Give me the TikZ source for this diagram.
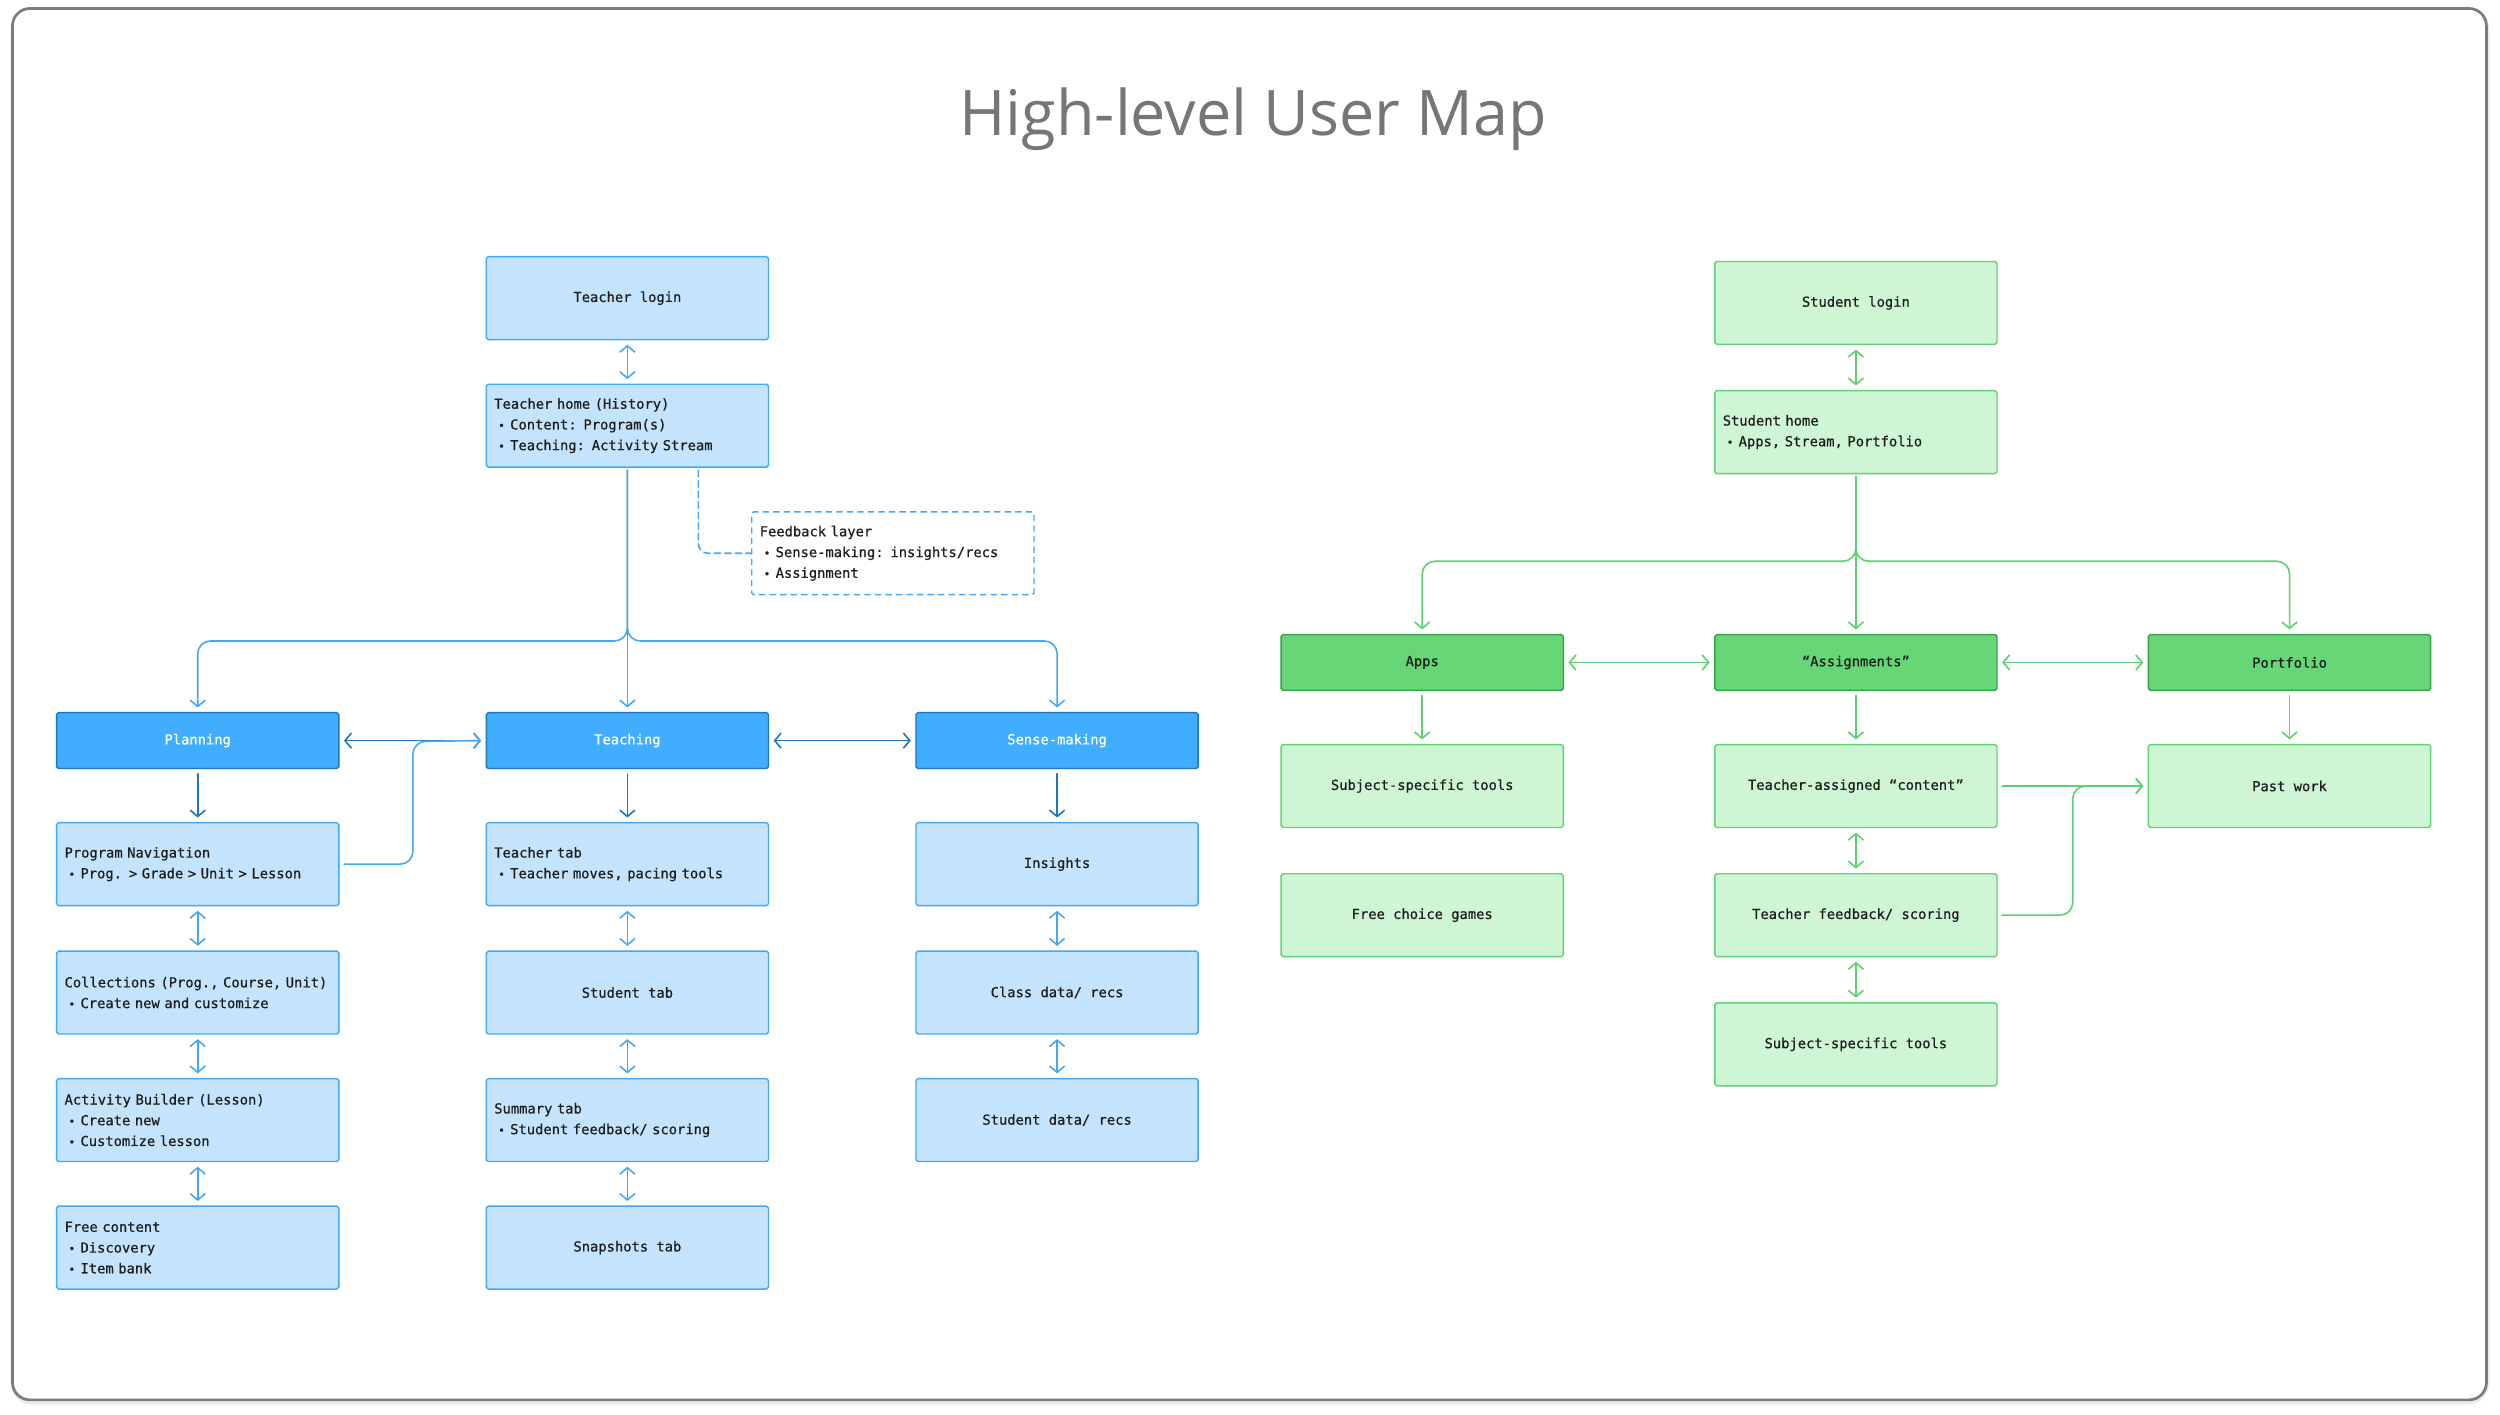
\documentclass[tikz,border=0pt]{standalone}
\usepackage{fontspec}
\usetikzlibrary{arrows.meta,calc}
\newfontfamily\monof[FakeBold=0.7]{DejaVu Sans Mono}
\newfontfamily\titlef{Open Sans}
\definecolor{lbfill}{HTML}{C4E4FD}
\definecolor{lbline}{HTML}{44A8F6}
\definecolor{dbfill}{HTML}{40ADFF}
\definecolor{dbline}{HTML}{1C76C2}
\definecolor{lgfill}{HTML}{CEF5D4}
\definecolor{lgline}{HTML}{63D274}
\definecolor{dgfill}{HTML}{66D677}
\definecolor{dgline}{HTML}{3C9F4B}
\definecolor{garr}{HTML}{5DD06F}
\definecolor{txtc}{HTML}{1E1E1E}
\definecolor{titlec}{HTML}{767676}
\definecolor{framec}{HTML}{7C7C7C}
\newcommand{\bul}{\makebox[10mm][l]{\hspace{2.5mm}\scalebox{0.8}{•}}}
\tikzset{
  base/.style={draw, rounded corners=1.2mm, line width=0.9mm, minimum height=52mm, minimum width=177mm,
    inner sep=0pt, text=txtc, font=\monof\fontsize{24.6pt}{37pt}\selectfont},
  lb/.style={base, fill=lbfill, draw=lbline},
  lbl/.style={lb, text width=167mm, align=left},
  db/.style={base, fill=dbfill, draw=dbline, minimum height=35mm, text=white},
  lg/.style={base, fill=lgfill, draw=lgline},
  lgl/.style={lg, text width=167mm, align=left},
  dg/.style={base, fill=dgfill, draw=dgline, minimum height=35mm},
  conn/.style={line width=1mm, line join=round, line cap=round},
  tipend/.style={-{Straight Barb[length=4mm,width=9.5mm,line width=1mm]}},
  tipboth/.style={{Straight Barb[length=4mm,width=9.5mm,line width=1mm]}-{Straight Barb[length=4mm,width=9.5mm,line width=1mm]}},
  lba/.style={conn, draw=lbline},
  dba/.style={conn, draw=dbline},
  ga/.style={conn, draw=garr},
  gap/.style={shorten <=2.8mm, shorten >=2.8mm},
}
\begin{document}
\begin{tikzpicture}[x=1mm,y=-1mm]
\useasboundingbox (0,0) rectangle (1568,887);
\fill[white] (0,0) rectangle (1568,887);
% frame
\draw[black!8, line width=3mm, rounded corners=12mm] (8.2,6.3) rectangle (1559.8,879.5);
\draw[framec, line width=1.7mm, rounded corners=11mm, fill=white] (7.8,5.3) rectangle (1559.5,878);
% title
\node[text=titlec] (title) at (786,75) {\resizebox{368mm}{!}{\titlef High-level User Map}};

% ---------- Teacher side ----------
\node[lb] (tlogin) at (393.5,187) {Teacher login};
\node[lbl] (thome) at (393.5,267) {Teacher home (History)\\\bul Content: Program(s)\\\bul Teaching: Activity Stream};
\node[lbl, fill=white, dash pattern=on 4mm off 2.6mm] (fb) at (560,347) {Feedback layer\\\bul Sense-making: insights/recs\\\bul Assignment};

\node[db] (plan) at (124,464.5) {Planning};
\node[db] (teach) at (393.5,464.5) {Teaching};
\node[db] (sense) at (663,464.5) {Sense-making};

\node[lbl] (pnav) at (124,542) {Program Navigation\\\bul Prog. > Grade > Unit > Lesson};
\node[lbl] (coll) at (124,622.5) {Collections (Prog., Course, Unit)\\\bul Create new and customize};
\node[lbl] (abuild) at (124,702.5) {Activity Builder (Lesson)\\\bul Create new\\\bul Customize lesson};
\node[lbl] (free) at (124,782.5) {Free content\\\bul Discovery\\\bul Item bank};

\node[lbl] (ttab) at (393.5,542) {Teacher tab\\\bul Teacher moves, pacing tools};
\node[lb] (stab) at (393.5,622.5) {Student tab};
\node[lbl] (sumtab) at (393.5,702.5) {Summary tab\\\bul Student feedback/ scoring};
\node[lb] (snap) at (393.5,782.5) {Snapshots tab};

\node[lb] (ins) at (663,542) {Insights};
\node[lb] (cdata) at (663,622.5) {Class data/ recs};
\node[lb] (sdata) at (663,702.5) {Student data/ recs};

\coordinate (brY) at (0,402);
\coordinate (jx) at (259,465);

\draw[lba, tipboth, gap] (tlogin) -- (thome);
\draw[lba, tipend, rounded corners=8mm, shorten <=1.5mm, shorten >=2.8mm] (thome.south) |- (plan.north |- brY) -- (plan.north);
\draw[lba, tipend, rounded corners=8mm, shorten <=1.5mm, shorten >=2.8mm] (thome.south) |- (sense.north |- brY) -- (sense.north);
\draw[lba, tipend, shorten <=1.5mm, shorten >=2.8mm] (thome.south) -- (teach.north);
\draw[lba, dash pattern=on 4mm off 2.6mm, rounded corners=6mm, shorten <=1.5mm] ($(thome.south)+(44.5,0)$) |- (fb.west);

\draw[dba, tipboth, gap] (plan) -- (teach);
\draw[dba, tipboth, gap] (teach) -- (sense);
\draw[lba, tipend, rounded corners=8mm, gap] (pnav.east) -| (jx) -- (teach.west);

\draw[dba, tipend, gap] (plan) -- (pnav);
\draw[dba, tipend, gap] (teach) -- (ttab);
\draw[dba, tipend, gap] (sense) -- (ins);

\draw[lba, tipboth, gap] (pnav) -- (coll);
\draw[lba, tipboth, gap] (coll) -- (abuild);
\draw[lba, tipboth, gap] (abuild) -- (free);
\draw[lba, tipboth, gap] (ttab) -- (stab);
\draw[lba, tipboth, gap] (stab) -- (sumtab);
\draw[lba, tipboth, gap] (sumtab) -- (snap);
\draw[lba, tipboth, gap] (ins) -- (cdata);
\draw[lba, tipboth, gap] (cdata) -- (sdata);

% ---------- Student side ----------
\node[lg] (slogin) at (1164,190) {Student login};
\node[lgl] (shome) at (1164,271) {Student home\\\bul Apps, Stream, Portfolio};

\node[dg] (apps) at (892,415.5) {Apps};
\node[dg] (assign) at (1164,415.5) {“Assignments”};
\node[dg] (port) at (1436,415.5) {Portfolio};

\node[lg] (sst1) at (892,493) {Subject-specific tools};
\node[lg] (fcg) at (892,574) {Free choice games};
\node[lg] (tac) at (1164,493) {Teacher-assigned “content”};
\node[lg] (tfs) at (1164,574) {Teacher feedback/ scoring};
\node[lg] (sst2) at (1164,655) {Subject-specific tools};
\node[lg] (past) at (1436,493) {Past work};

\coordinate (gbrY) at (0,352);
\coordinate (gx) at (1300,493);

\draw[ga, tipboth, gap] (slogin) -- (shome);
\draw[ga, tipend, rounded corners=8mm, shorten <=1.5mm, shorten >=2.8mm] (shome.south) |- (apps.north |- gbrY) -- (apps.north);
\draw[ga, tipend, rounded corners=8mm, shorten <=1.5mm, shorten >=2.8mm] (shome.south) |- (port.north |- gbrY) -- (port.north);
\draw[ga, tipend, shorten <=1.5mm, shorten >=2.8mm] (shome.south) -- (assign.north);

\draw[ga, tipboth, gap] (apps) -- (assign);
\draw[ga, tipboth, gap] (assign) -- (port);

\draw[ga, tipend, gap] (apps) -- (sst1);
\draw[ga, tipend, gap] (assign) -- (tac);
\draw[ga, tipend, gap] (port) -- (past);

\draw[ga, tipend, gap] (tac) -- (past);
\draw[ga, tipend, rounded corners=8mm, gap] (tfs.east) -| (gx) -- (past.west);

\draw[ga, tipboth, gap] (tac) -- (tfs);
\draw[ga, tipboth, gap] (tfs) -- (sst2);
\end{tikzpicture}
\end{document}
